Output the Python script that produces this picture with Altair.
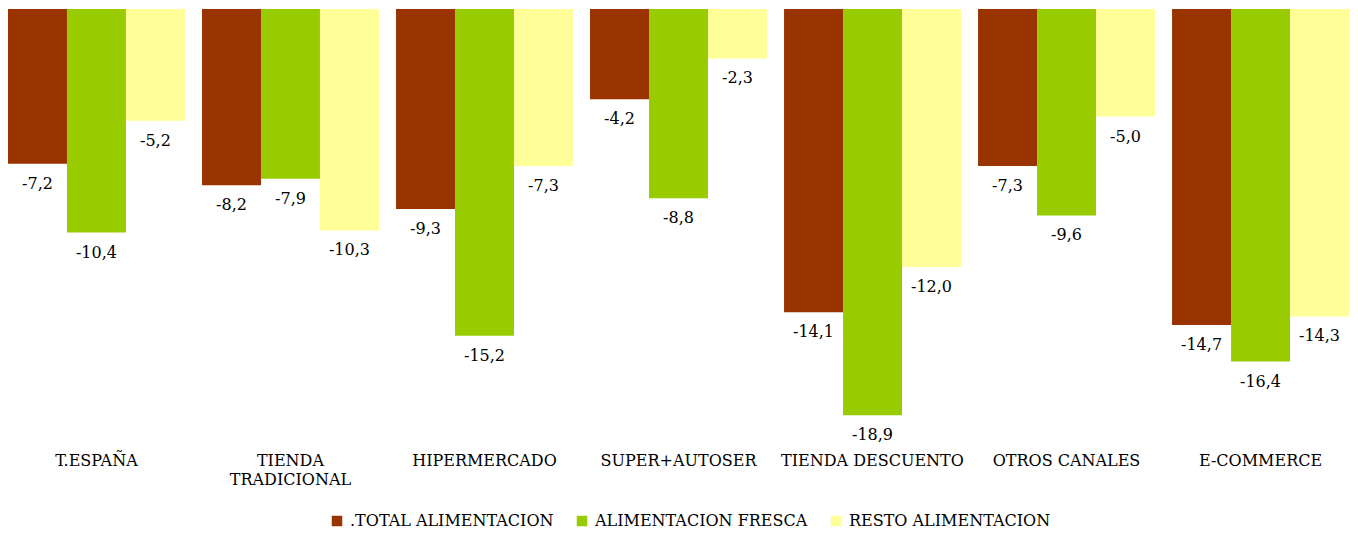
import altair as alt
import pandas as pd

categories = ["T.ESPAÑA", "TIENDA TRADICIONAL", "HIPERMERCADO", "SUPER+AUTOSER",
              "TIENDA DESCUENTO", "OTROS CANALES", "E-COMMERCE"]
series = [".TOTAL ALIMENTACION", "ALIMENTACION FRESCA", "RESTO ALIMENTACION"]
total = [-7.2, -8.2, -9.3, -4.2, -14.1, -7.3, -14.7]
fresca = [-10.4, -7.9, -15.2, -8.8, -18.9, -9.6, -16.4]
resto = [-5.2, -10.3, -7.3, -2.3, -12.0, -5.0, -14.3]
colors = ["#993300", "#99CC00", "#FFFF99"]

rows = []
for s, vals in zip(series, [total, fresca, resto]):
    for c, v in zip(categories, vals):
        rows.append({"cat": c, "serie": s, "v": v})
df = pd.DataFrame(rows)

FONT = "DejaVu Serif"

x = alt.X("cat:N", sort=categories, title=None,
          scale=alt.Scale(paddingInner=0.088, paddingOuter=0),
          axis=alt.Axis(orient="bottom", domain=False, ticks=False, labelAngle=0,
                        labelPadding=13, labelFont=FONT, labelFontSize=16,
                        labelLineHeight=19, labelLimit=400,
                        labelColor="#000000", labelBaseline="top",
                        labelExpr="datum.value == 'TIENDA TRADICIONAL' ? ['TIENDA','TRADICIONAL'] : datum.value"))
xo = alt.XOffset("serie:N", sort=series, scale=alt.Scale(paddingInner=0.0, paddingOuter=0))
y = alt.Y("v:Q", title=None, scale=alt.Scale(domain=[-20, 0], nice=False),
          axis=None)

base = alt.Chart(df).encode(x=x, xOffset=xo)

bars = base.mark_bar().encode(
    y=y,
    color=alt.Color("serie:N", sort=series, title=None,
                    scale=alt.Scale(domain=series, range=colors),
                    legend=alt.Legend(orient="none", direction="horizontal",
                                      legendX=321, legendY=504,
                                      symbolType="square", symbolSize=110,
                                      symbolStrokeWidth=0,
                                      labelFont=FONT, labelFontSize=16,
                                      labelColor="#000000", columnPadding=20,
                                      labelOffset=5, labelLimit=400)),
)

labels = base.transform_calculate(
    lbl="(datum.v < 0 ? '-' : '') + replace(format(abs(datum.v), '.1f'), '.', ',')"
).mark_text(font=FONT, fontSize=16, color="#000000", dy=20, baseline="middle").encode(
    y=y, text="lbl:N"
)

chart = (bars + labels).properties(
    width=1341, height=430,
    padding={"left": 0, "top": 1, "right": 0, "bottom": 0},
).configure_view(stroke=None)

chart.save("out.html", embed_options={"renderer": "svg", "actions": False})
